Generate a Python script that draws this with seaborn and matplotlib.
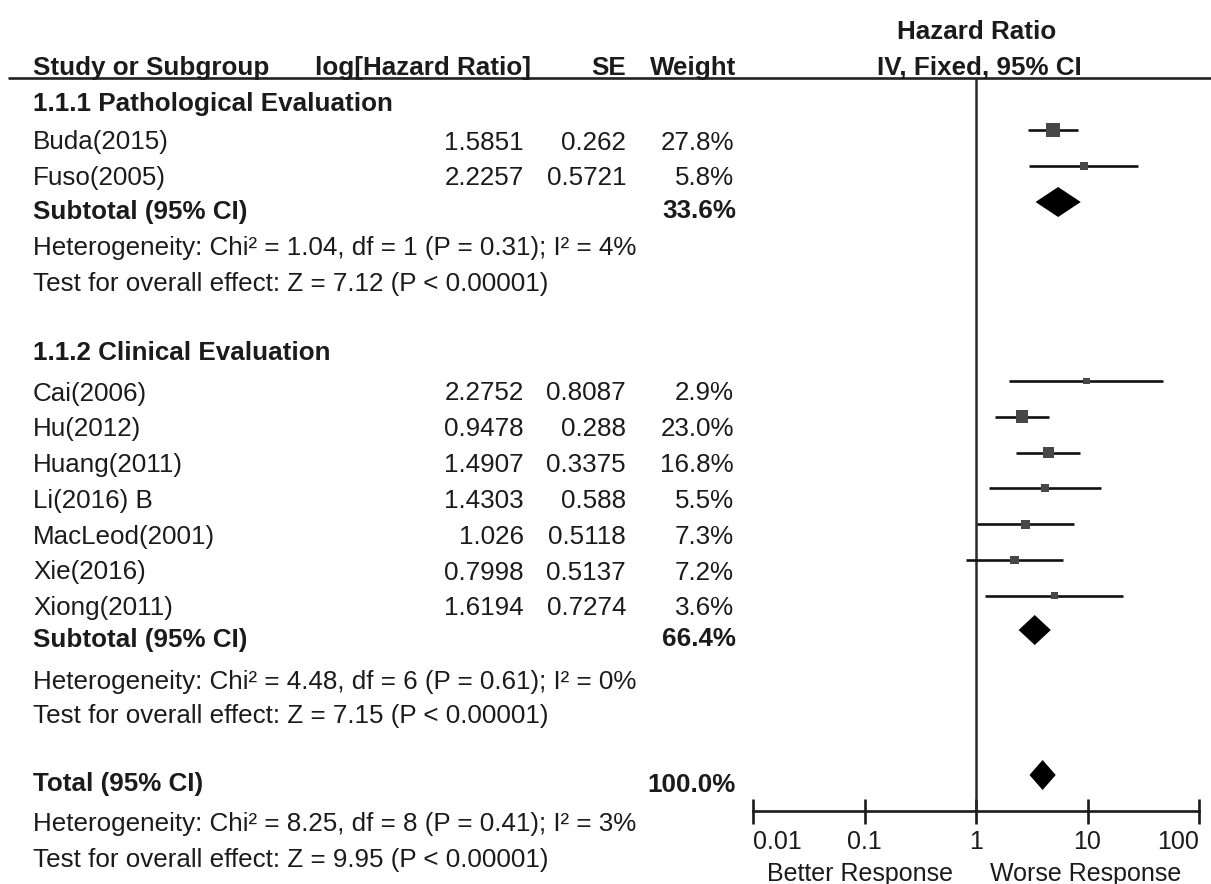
import numpy as np
import matplotlib
matplotlib.use("Agg")
import matplotlib.pyplot as plt
import seaborn as sns

# ---- study data ----
studies = ["Buda(2015)", "Fuso(2005)",
           "Cai(2006)", "Hu(2012)", "Huang(2011)", "Li(2016) B",
           "MacLeod(2001)", "Xie(2016)", "Xiong(2011)"]
log_hr = [1.5851, 2.2257, 2.2752, 0.9478, 1.4907, 1.4303, 1.026, 0.7998, 1.6194]
se = [0.262, 0.5721, 0.8087, 0.288, 0.3375, 0.588, 0.5118, 0.5137, 0.7274]
weight = [27.8, 5.8, 2.9, 23.0, 16.8, 5.5, 7.3, 7.2, 3.6]
group = [0, 0, 1, 1, 1, 1, 1, 1, 1]

group_titles = ["1.1.1 Pathological Evaluation", "1.1.2 Clinical Evaluation"]
group_weight = ["33.6%", "66.4%"]
group_het = ["Heterogeneity: Chi\u00b2 = 1.04, df = 1 (P = 0.31); I\u00b2 = 4%",
             "Heterogeneity: Chi\u00b2 = 4.48, df = 6 (P = 0.61); I\u00b2 = 0%"]
group_test = ["Test for overall effect: Z = 7.12 (P < 0.00001)",
              "Test for overall effect: Z = 7.15 (P < 0.00001)"]
total_label = "Total (95% CI)"
total_weight = "100.0%"
total_het = "Heterogeneity: Chi\u00b2 = 8.25, df = 8 (P = 0.41); I\u00b2 = 3%"
total_test = "Test for overall effect: Z = 9.95 (P < 0.00001)"

columns = ["Study or Subgroup", "log[Hazard Ratio]", "SE", "Weight"]
plot_header = ["Hazard Ratio", "IV, Fixed, 95% CI"]
tick_values = [0.01, 0.1, 1, 10, 100]
tick_labels = ["0.01", "0.1", "1", "10", "100"]
favours = ["Better Response", "Worse Response"]

# ---- style ----
sns.set_theme(style="white")
plt.rcParams["font.family"] = ["Liberation Sans", "DejaVu Sans"]
TXT = "#1b1b1b"
FS = 18.7
AXFS = 18

W, H = 1211, 884
fig = plt.figure(figsize=(W / 100, H / 100), dpi=100)
fig.patch.set_facecolor("white")

# text layer in pixel coordinates
ax = fig.add_axes([0, 0, 1, 1])
ax.set_xlim(0, W)
ax.set_ylim(H, 0)
ax.axis("off")

# forest layer: log hazard-ratio axis, same vertical pixel scale
X0, X1 = 753, 1199
axf = fig.add_axes([X0 / W, 0, (X1 - X0) / W, 1])
axf.set_xscale("log")
axf.set_xlim(0.01, 100)
axf.set_ylim(H, 0)
axf.patch.set_alpha(0)
axf.grid(False)

log_hr_a = np.asarray(log_hr)
se_a = np.asarray(se)
weight_a = np.asarray(weight)
group_a = np.asarray(group)


def pooled(mask):
    """Inverse-variance fixed-effect estimate and its standard error."""
    w = 1.0 / se_a[mask] ** 2
    est = np.sum(w * log_hr_a[mask]) / w.sum()
    return est, 1.0 / np.sqrt(w.sum())


def txt(x, y, s, ha="left", bold=False, size=FS, va="center"):
    dy = 1.5 if va == "center" else 0
    ax.text(x, y + dy, s, ha=ha, va=va, fontsize=size, color=TXT,
            fontweight="bold" if bold else "normal")


NAME_X, LHR_X, SE_X, WT_X = 33, 524, 626, 734

# header
txt(NAME_X, 75, columns[0], bold=True, va="baseline")
txt(531, 75, columns[1], ha="right", bold=True, va="baseline")
txt(SE_X, 75, columns[2], ha="right", bold=True, va="baseline")
txt(736, 75, columns[3], ha="right", bold=True, va="baseline")
txt(977, 39, plot_header[0], ha="center", bold=True, va="baseline")
txt(979, 75, plot_header[1], ha="center", bold=True, va="baseline")
ax.hlines(78, 8, W, color="#222222", lw=1.9)

# vertical rows (pixel layout)
PITCH = 35.8
group_title_y = [102, 352]
group_first_y = [141, 392]
text_y = np.zeros(len(studies))
for g in range(2):
    idx = np.where(group_a == g)[0]
    text_y[idx] = group_first_y[g] + PITCH * np.arange(len(idx))
marker_y = text_y - 11

sub_y = [210, 638]
het_y = [247, 680]
test_y = [282, 715]

for g in range(2):
    txt(NAME_X, group_title_y[g], group_titles[g], bold=True)

for i, name in enumerate(studies):
    txt(NAME_X, text_y[i], name)
    txt(LHR_X, text_y[i], str(log_hr[i]), ha="right")
    txt(SE_X, text_y[i], str(se[i]), ha="right")
    txt(WT_X, text_y[i], f"{weight[i]:.1f}%", ha="right")

# confidence intervals
lo = np.exp(log_hr_a - 1.96 * se_a)
hi = np.exp(log_hr_a + 1.96 * se_a)
axf.hlines(marker_y, lo, hi, color="#111111", lw=1.9, zorder=2)

# study squares sized by weight
side_px = 3.5 + 1.9 * np.sqrt(weight_a)
sizes = (side_px * 0.72) ** 2
sns.scatterplot(x=np.exp(log_hr_a), y=marker_y, s=sizes, marker="s",
                color="#474747", linewidth=0, ax=axf, legend=False, zorder=3)


def diamond(est, s, yc, half=15):
    xs = np.exp([est - 1.96 * s, est, est + 1.96 * s, est])
    ys = [yc, yc - half, yc, yc + half]
    axf.fill(xs, ys, color="black", lw=0, zorder=3)


for g in range(2):
    txt(NAME_X, sub_y[g], "Subtotal (95% CI)", bold=True)
    txt(736, sub_y[g], group_weight[g], ha="right", bold=True)
    est, s = pooled(group_a == g)
    diamond(est, s, sub_y[g] - 8)
    txt(NAME_X, het_y[g], group_het[g])
    txt(NAME_X, test_y[g], group_test[g])

txt(NAME_X, 783, total_label, bold=True)
txt(736, 783, total_weight, ha="right", bold=True)
est, s = pooled(np.ones(len(studies), dtype=bool))
diamond(est, s, 775)
txt(NAME_X, 822, total_het)
txt(NAME_X, 858, total_test)

# null line and hazard-ratio axis
axf.vlines(1, 78, 811, color="#2a2a2a", lw=1.8, zorder=1)
for side in ["top", "left", "right"]:
    axf.spines[side].set_visible(False)
axf.spines["bottom"].set_position(("data", 811))
axf.spines["bottom"].set_linewidth(1.9)
axf.spines["bottom"].set_color("#1b1b1b")
axf.set_yticks([])
axf.set_xticks(tick_values, tick_labels)
axf.xaxis.set_minor_locator(matplotlib.ticker.NullLocator())
axf.tick_params(axis="x", which="major", direction="inout", length=18,
                width=1.9, color="#1b1b1b", pad=5, labelsize=AXFS,
                labelcolor=TXT, bottom=True)
labels = axf.get_xticklabels()
labels[0].set_horizontalalignment("left")
labels[-1].set_horizontalalignment("right")

txt(860, 872, favours[0], ha="center", size=AXFS)
txt(1086, 872, favours[1], ha="center", size=AXFS)

fig.savefig("out.png", dpi=100, facecolor="white")
